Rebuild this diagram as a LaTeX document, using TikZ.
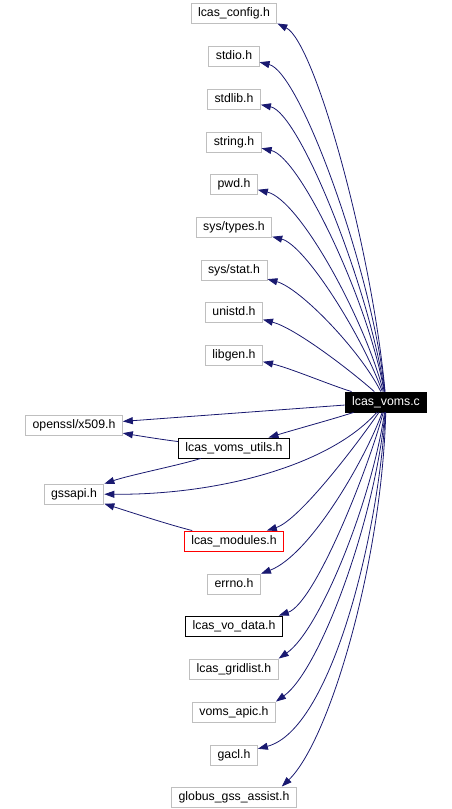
\documentclass[tikz,border=0pt]{standalone}
\usepackage{fontspec}
\setmainfont{Liberation Sans}
\usetikzlibrary{arrows.meta}
\definecolor{edgec}{HTML}{191970}
\definecolor{boxgray}{HTML}{BFBFBF}
\tikzset{
  hdr/.style={draw=boxgray, fill=white, line width=0.9pt, inner xsep=7pt, inner ysep=0pt,
    minimum height=20pt, font=\fontsize{12.3pt}{14pt}\selectfont, text height=9pt, text depth=2.5pt},
  hdrblack/.style={hdr, draw=black},
  hdrred/.style={hdr, draw=red},
  src/.style={hdr, draw=black, fill=black, text=white},
  edge/.style={draw=edgec, line width=0.8pt, -{Triangle[length=10pt,width=7pt]}}
}
\begin{document}
\begin{tikzpicture}[x=1pt,y=-1pt]
\useasboundingbox (0,0) rectangle (452,809);
% nodes
\node[hdr] (cfg) at (234,13) {lcas\_config.h};
\node[hdr] (stdio) at (234,56) {stdio.h};
\node[hdr] (stdlib) at (234,99) {stdlib.h};
\node[hdr] (string) at (234,142) {string.h};
\node[hdr] (pwd) at (234,184) {pwd.h};
\node[hdr] (types) at (234,227) {sys/types.h};
\node[hdr] (stat) at (234,270) {sys/stat.h};
\node[hdr] (unistd) at (234,312) {unistd.h};
\node[hdr] (libgen) at (234,355) {libgen.h};
\node[src] (v) at (386,402) {lcas\_voms.c};
\node[hdr] (ossl) at (74,425) {openssl/x509.h};
\node[hdrblack] (utils) at (234,448) {lcas\_voms\_utils.h};
\node[hdr] (gss) at (74,494) {gssapi.h};
\node[hdrred] (mod) at (234,541) {lcas\_modules.h};
\node[hdr] (errno) at (234,584) {errno.h};
\node[hdrblack] (vo) at (234,626) {lcas\_vo\_data.h};
\node[hdr] (grid) at (234,669) {lcas\_gridlist.h};
\node[hdr] (apic) at (234,712) {voms\_apic.h};
\node[hdr] (gacl) at (234,755) {gacl.h};
\node[hdr] (glob) at (234,797) {globus\_gss\_assist.h};
% top edges
\draw[edge] (v) .. controls (372,250) and (315,42) .. (cfg.south east);
\draw[edge] (v) .. controls (372,270) and (300,72) .. (stdio);
\draw[edge] (v) .. controls (370,290) and (300,113) .. (stdlib);
\draw[edge] (v) .. controls (368,300) and (300,157) .. (string);
\draw[edge] (v) .. controls (365,320) and (300,200) .. (pwd);
\draw[edge] (v) .. controls (362,335) and (305,245) .. (types);
\draw[edge] (v) .. controls (360,350) and (300,288) .. (stat);
\draw[edge] (v) .. controls (350,370) and (295,328) .. (unistd);
\draw[edge] (v) .. controls (330,385) and (290,368) .. (libgen);
% middle edges
\draw[edge] (v) -- (ossl);
\draw[edge] (v) .. controls (330,420) and (300,428) .. (utils);
\draw[edge] (utils) .. controls (165,440) and (140,436) .. (ossl);
\draw[edge] (utils) .. controls (180,465) and (130,475) .. (gss);
\draw[edge] (v) .. controls (330,465) and (220,495) .. (gss);
\draw[edge] (v) .. controls (360,440) and (300,520) .. (mod);
\draw[edge] (mod) .. controls (170,525) and (130,512) .. (gss);
% bottom edges
\draw[edge] (v) .. controls (365,460) and (310,555) .. (errno);
\draw[edge] (v) .. controls (368,470) and (315,603) .. ([xshift=-4pt]vo.north east);
\draw[edge] (v) .. controls (372,500) and (320,630) .. (grid.north east);
\draw[edge] (v) .. controls (375,520) and (320,670) .. (apic.north east);
\draw[edge] (v) .. controls (378,540) and (330,730) .. (gacl);
\draw[edge] (v) .. controls (382,560) and (330,740) .. ([xshift=-15pt]glob.north east);
\end{tikzpicture}
\end{document}
